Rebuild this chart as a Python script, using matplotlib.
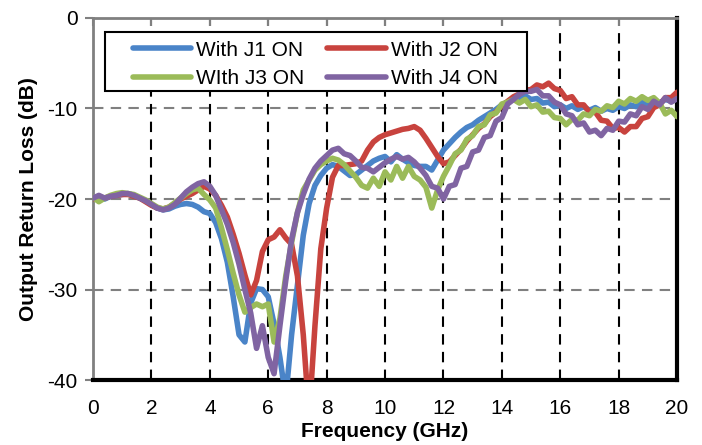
import matplotlib
matplotlib.use("Agg")
import matplotlib.pyplot as plt
from matplotlib.patches import Rectangle
import numpy as np

plt.rcParams['font.family'] = ['Liberation Sans', 'DejaVu Sans']
plt.rcParams['axes.unicode_minus'] = False

# frequency points (GHz), 0.2 GHz apart
freq = np.round(np.arange(0, 20.001, 0.2), 1)

# output return loss (dB)
j1_on = [-20.0, -19.8, -20.0, -19.7, -19.6, -19.5, -19.4, -19.6, -19.9, -20.2,
         -20.6, -21.0, -21.2, -21.1, -20.8, -20.6, -20.5, -20.6, -20.9, -21.4,
         -21.6, -22.6, -24.4, -27.0, -30.8, -35.0, -35.8, -31.5, -29.9, -30.0,
         -30.8, -33.8, -37.5, -42.0, -35.0, -29.5, -24.0, -20.5, -18.5, -17.4,
         -16.6, -16.2, -16.4, -16.9, -17.4, -17.3, -16.8, -16.3, -15.8, -15.5,
         -15.3, -15.9, -15.1, -15.6, -16.0, -16.3, -16.4, -16.4, -16.8, -15.7,
         -14.6, -13.9, -13.2, -12.6, -12.1, -11.8, -11.3, -10.9, -10.5, -10.1,
         -9.6, -9.3, -8.8, -8.9, -8.6, -9.0, -8.9, -9.4, -9.3, -9.8,
         -9.6, -10.0, -9.7, -10.1, -9.8, -10.2, -9.9, -10.3, -10.0, -10.2,
         -9.8, -10.0, -9.6, -9.8, -9.3, -9.6, -9.1, -9.4, -9.0, -9.2,
         -8.9]
j2_on = [-20.0, -19.8, -19.9, -19.7, -19.6, -19.5, -19.5, -19.7, -19.9, -20.3,
         -20.7, -21.0, -21.1, -20.9, -20.5, -20.0, -19.7, -19.4, -19.0, -18.6,
         -18.9, -19.6, -20.7, -22.0, -23.9, -26.0, -28.4, -30.6, -29.0, -25.8,
         -24.5, -24.2, -23.4, -24.3, -25.0, -28.5, -35.0, -44.0, -34.0, -25.5,
         -21.0, -17.6, -16.3, -16.3, -16.2, -16.1, -15.8, -14.6, -13.7, -13.2,
         -12.9, -12.7, -12.5, -12.3, -12.2, -12.0, -12.4, -13.3, -14.3, -15.3,
         -16.1, -15.9, -15.2, -14.5, -13.6, -12.9, -12.2, -11.7, -10.9, -10.4,
         -9.7, -9.2, -8.7, -8.4, -8.0, -7.9, -7.4, -7.6, -7.2, -7.8,
         -8.0, -8.9, -8.7, -9.6, -9.6, -10.4, -10.4, -11.3, -11.4, -12.2,
         -12.1, -12.6, -12.0, -12.0, -11.1, -10.9, -9.9, -9.6, -8.8, -8.8,
         -8.2]
j3_on = [-19.8, -20.3, -19.9, -19.6, -19.4, -19.3, -19.4, -19.5, -19.8, -20.1,
         -20.5, -20.9, -21.1, -20.9, -20.4, -19.9, -19.4, -19.0, -18.8, -19.5,
         -20.1, -21.0, -23.2, -25.6, -28.2, -30.6, -32.5, -32.0, -31.6, -31.9,
         -31.6, -35.8, -33.2, -28.5, -24.8, -21.5, -19.0, -17.9, -16.8, -16.2,
         -15.8, -15.5, -15.7, -16.2, -16.9, -17.6, -18.5, -18.8, -17.7, -18.6,
         -17.0, -17.9, -16.4, -17.7, -16.4, -17.5, -17.9, -18.7, -21.0, -19.0,
         -17.5, -16.3, -15.0, -14.6, -13.4, -13.0, -12.0, -11.8, -10.7, -10.5,
         -9.5, -9.3, -9.0, -9.4, -9.0, -9.8, -9.6, -10.4, -10.3, -11.0,
         -11.1, -11.8, -11.2, -11.3, -10.6, -10.8, -10.1, -10.3, -9.7, -9.9,
         -9.2, -9.5, -8.9, -9.2, -8.7, -9.1, -8.8, -9.4, -10.6, -10.2,
         -10.9]
j4_on = [-19.9, -19.6, -19.9, -19.7, -19.6, -19.4, -19.4, -19.6, -19.9, -20.2,
         -20.6, -21.0, -21.2, -21.0, -20.6, -19.9, -19.2, -18.7, -18.3, -18.1,
         -18.6, -19.6, -21.2, -22.8, -24.8, -27.2, -30.0, -32.6, -36.5, -34.0,
         -37.5, -39.3, -34.0, -29.0, -24.5, -21.5, -19.5, -17.8, -16.6, -15.8,
         -15.2, -14.6, -14.4, -15.0, -15.2, -15.8, -16.5, -16.6, -17.0, -16.5,
         -16.0, -15.6, -15.3, -15.6, -15.4, -15.9, -16.6, -17.4, -18.6, -18.8,
         -20.0, -18.6, -18.4, -16.6, -16.4, -14.8, -14.6, -13.2, -13.0, -11.4,
         -11.0, -9.5, -9.0, -8.4, -8.1, -8.1, -7.9, -8.6, -8.6, -9.3,
         -9.6, -10.6, -10.8, -11.8, -11.6, -12.6, -12.4, -13.0, -12.2, -12.4,
         -11.4, -11.5, -10.6, -10.8, -9.8, -10.1, -9.2, -9.6, -8.8, -9.3,
         -8.9]

labels = ['With J1 ON', 'With J2 ON', 'WIth J3 ON', 'With J4 ON']
colors = ['#4A84C8', '#C8433E', '#9BBB59', '#8064A2']
series = [j1_on, j2_on, j3_on, j4_on]

fig = plt.figure(figsize=(7.02, 4.45), dpi=100)
ax = fig.add_axes([0.1325, 0.146, 0.832, 0.8136])

for v in [-10, -20, -30]:
    ax.axhline(v, color='#808080', lw=1.5, ls=(0, (5, 3.5)), zorder=1)
for f in range(2, 20, 2):
    ax.axvline(f, color='black', lw=1.5, ls=(0, (5, 3.5)), zorder=1)

lines = []
for y, c, lab in zip(series, colors, labels):
    ln, = ax.plot(freq, y, color=c, lw=4, label=lab, zorder=3,
                  solid_capstyle='round', solid_joinstyle='round')
    lines.append(ln)

ax.set_xlim(0, 20)
ax.set_ylim(-40, 0)
ax.set_xticks(range(0, 21, 2))
ax.set_yticks(range(-40, 1, 10))
ax.tick_params(axis='x', bottom=False, top=True, direction='in', length=6,
               width=1.5, color='#808080', labelsize=15, pad=14)
ax.tick_params(axis='y', direction='out', length=6, width=1.5,
               color='#808080', labelsize=15, pad=5)

ax.spines['left'].set_color('#808080')
ax.spines['left'].set_linewidth(2)
ax.spines['top'].set_color('#808080')
ax.spines['top'].set_linewidth(2)
ax.spines['bottom'].set_color('black')
ax.spines['bottom'].set_linewidth(3)
ax.spines['right'].set_color('black')
ax.spines['right'].set_linewidth(3)

ax.set_xlabel('Frequency (GHz)', fontsize=15, fontweight='bold')
ax.xaxis.set_label_coords(0.5, -0.115)
ax.set_ylabel('Output Return Loss (dB)', fontsize=15, fontweight='bold')
ax.yaxis.set_label_coords(-0.095, 0.5)

# legend box drawn by hand so its margins match the original
ax.add_patch(Rectangle((0.0205, 0.798), 0.7226, 0.163, transform=ax.transAxes,
                       facecolor='white', edgecolor='black', lw=1.5, zorder=4))
# row-wise order: J1, J2 on top row, J3, J4 below
order = [0, 2, 1, 3]
ax.legend([lines[i] for i in order], [labels[i] for i in order],
          ncol=2, loc='upper left', bbox_to_anchor=(0.05, 0.966),
          frameon=False, borderpad=0, fontsize=15, handlelength=2.8,
          handletextpad=0.25, columnspacing=1.1, labelspacing=0.45
          ).set_zorder(5)

fig.savefig('out.png', dpi=100)
